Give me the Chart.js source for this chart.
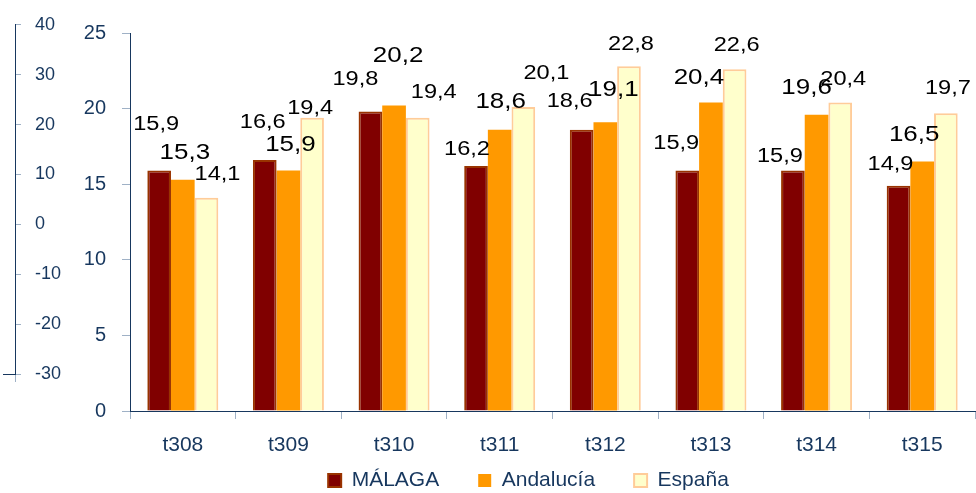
<!DOCTYPE html>
<html>
<head>
<meta charset="utf-8">
<script src="https://cdn.jsdelivr.net/npm/chart.js@4.4.0/dist/chart.umd.min.js"></script>
<style>
  body { margin: 0; background: #fff; }
  #caja { position: relative; width: 976px; height: 493px; }
  #myChart, #ejeIzq { position: absolute; left: 0; top: 0; }
</style>
</head>
<body>
<div id="caja">
  <canvas id="myChart" width="976" height="493"></canvas>
  <canvas id="ejeIzq" width="70" height="493"></canvas>
</div>
<script>
let trimestres = ['t308', 't309', 't310', 't311', 't312', 't313', 't314', 't315']
let malaga    = [15.9, 16.6, 19.8, 16.2, 18.6, 15.9, 15.9, 14.9]
let andalucia = [15.3, 15.9, 20.2, 18.6, 19.1, 20.4, 19.6, 16.5]
let espana    = [14.1, 19.4, 19.4, 20.1, 22.8, 22.6, 20.4, 19.7]

// eje principal 0..25 y eje suelto de la izquierda -30..40
let ejeMin = 0, ejeMax = 25, ejePaso = 5
let eje2Min = -30, eje2Max = 40, eje2Paso = 10

// donde cae cada etiqueta respecto a la punta de su barra (px)
let despMalaga    = [[-3,-46], [-2,-38], [-15,-32], [-9,-17], [-12,-28], [-11,-27], [-13,-14], [-8,-21]]
let despAndalucia = [[2,-27], [2,-26], [4,-50], [1,-28], [8,-32], [-12,-25], [-10,-27], [-8,-27]]
let despEspana    = [[11,-23], [-2,-9], [16,-25], [23,-34], [2,-22], [2,-24], [3,-23], [2,-25]]

const azul = '#17375E'
const gris = '#9FB1C6'
const fuente = 'Liberation Sans, Arial, sans-serif'

const etiquetas = {
    id: 'etiquetas',
    afterDatasetsDraw(chart) {
        const ctx = chart.ctx
        const desp = [despMalaga, despAndalucia, despEspana]
        const tam = [20, 22, 20]
        chart.data.datasets.forEach((ds, i) => {
            const meta = chart.getDatasetMeta(i)
            meta.data.forEach((bar, j) => {
                const txt = ds.data[j].toFixed(1).replace('.', ',')
                ctx.save()
                ctx.translate(bar.x + desp[i][j][0], bar.y + desp[i][j][1])
                ctx.scale(1.18, 1)
                ctx.font = tam[i] + 'px ' + fuente
                ctx.fillStyle = '#000'
                ctx.textAlign = 'center'
                ctx.textBaseline = 'middle'
                ctx.fillText(txt, 0, 0)
                ctx.restore()
            })
        })
    }
}

// la leyenda va un poco a la derecha y abajo; el eje x necesita sitio para sus textos
const moverLeyenda = {
    id: 'moverLeyenda',
    afterLayout(chart) {
        const l = chart.legend
        l.left += 41; l.right += 41
        l.top += 8; l.bottom += 8
        chart.scales.x.bottom = chart.height
    }
}

const ctx = document.getElementById('myChart')

const myChart = new Chart(ctx, {
    type: 'bar',
    data: {
        labels: trimestres,
        datasets: [{
            label: 'MÁLAGA',
            data: malaga,
            backgroundColor: '#800000',
            borderColor: '#993300',
            borderWidth: 2
        }, {
            label: 'Andalucía',
            data: andalucia,
            backgroundColor: '#FF9900',
            borderColor: '#FF9900',
            borderWidth: 0
        }, {
            label: 'España',
            data: espana,
            backgroundColor: '#FFFFCC',
            borderColor: '#FFCC99',
            borderWidth: 2
        }]
    },
    options: {
        responsive: false,
        animation: false,
        categoryPercentage: 0.672,
        barPercentage: 1.0,
        layout: { padding: { left: 0, right: 1, top: 33, bottom: 0 } },
        plugins: {
            tooltip: { enabled: false },
            legend: {
                position: 'bottom',
                labels: {
                    boxWidth: 13,
                    boxHeight: 13,
                    padding: 39,
                    color: azul,
                    font: { family: fuente, size: 21 }
                }
            }
        },
        scales: {
            x: {
                grid: { drawOnChartArea: false, tickLength: 8, color: gris },
                border: { color: azul },
                ticks: { color: azul, padding: 14, font: { family: fuente, size: 21 } },
                afterFit: (s) => { s.height = 12 }
            },
            y: {
                min: ejeMin,
                max: ejeMax,
                grid: { drawOnChartArea: false, tickLength: 8, color: gris },
                border: { color: azul },
                ticks: { stepSize: ejePaso, color: azul, padding: 16, font: { family: fuente, size: 20 } },
                afterFit: (s) => { s.width = 130 }
            }
        }
    },
    plugins: [etiquetas, moverLeyenda]
});

// eje suelto a la izquierda (sin datos)
const ejeIzq = new Chart(document.getElementById('ejeIzq'), {
    type: 'line',
    data: { datasets: [] },
    options: {
        responsive: false,
        animation: false,
        layout: { padding: { left: 0, right: 0, top: 19, bottom: 111 } },
        plugins: { legend: { display: false }, tooltip: { enabled: false } },
        scales: {
            x: {
                type: 'linear',
                min: 0,
                max: 1,
                grid: {
                    drawOnChartArea: false,
                    tickLength: 8,
                    color: (c) => (c.tick && c.tick.value === 0) ? 'rgba(0,0,0,0)' : gris
                },
                border: { color: azul },
                ticks: { stepSize: 1, callback: () => '' },
                afterFit: (s) => { s.height = 8 }
            },
            y: {
                position: 'right',
                min: eje2Min,
                max: eje2Max,
                grid: { drawOnChartArea: false, tickLength: 6, color: gris },
                border: { color: azul },
                ticks: { stepSize: eje2Paso, color: azul, padding: 14, font: { family: fuente, size: 18 } },
                afterFit: (s) => { s.width = 55 }
            }
        }
    }
});
</script>
</body>
</html>
